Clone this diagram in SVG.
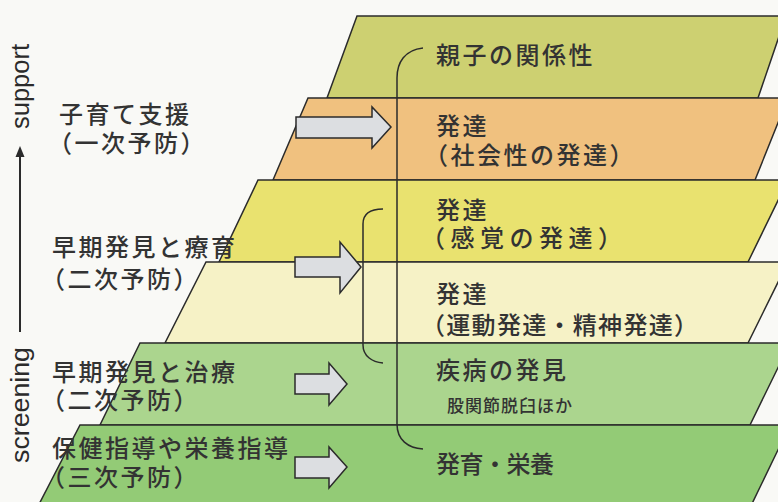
<svg xmlns="http://www.w3.org/2000/svg" width="778" height="502" viewBox="0 0 778 502">
<style>
.layer{stroke:#2b2b2b;stroke-width:1.5;stroke-linejoin:miter}
.arrow{fill:#dcdee1;stroke:#2b2b2b;stroke-width:1.5;stroke-linejoin:miter}
.br{fill:none;stroke:#2b2b2b;stroke-width:1.5}
.jp{font-family:"Noto Sans CJK JP","Noto Sans CJK SC",sans-serif;font-size:24px;font-weight:500;letter-spacing:2.5px;fill:#333333}
.sm{font-family:"Noto Sans CJK JP","Noto Sans CJK SC",sans-serif;font-size:17px;font-weight:500;letter-spacing:1px;fill:#333333}
.en{font-family:"Liberation Sans",Arial,sans-serif;font-size:25px;fill:#2b2b2b}
</style>
<rect width="778" height="502" fill="#f9f9f6"/>
<g id="layer1"><polygon class="layer" fill="#cdd071" points="357,16 786,16 758,98 327,98"/></g>
<g id="layer2"><polygon class="layer" fill="#f0c17f" points="308,98 788,98 755,180 273,180"/></g>
<g id="layer3"><polygon class="layer" fill="#e9e26f" points="258,180 788,180 748,262 219,262"/></g>
<g id="layer4"><polygon class="layer" fill="#f6f2c6" points="206,262 788,262 748,343 165,343"/></g>
<g id="layer5"><polygon class="layer" fill="#abd58e" points="140,343 790,343 750,425 100,425"/></g>
<g id="layer6"><polygon class="layer" fill="#93cb76" points="80,425 790,425 748,512 35,512"/></g>
<g id="connectors">
<polygon class="arrow" points="296,117 372,117 372,107 391,127 372,148 372,138 296,138"/>
<polygon class="arrow" points="295,257 340,257 340,242 361,267 340,293 340,277 295,277"/>
<polygon class="arrow" points="295,374 329,374 329,363 347,384 329,405 329,394 295,394"/>
<polygon class="arrow" points="295,457 329,457 329,447 347,467 329,488 329,478 295,478"/>
<path class="br" d="M423,48 C405,50 397,62 397,78 L397,424 C397,440 408,448 423,449"/>
<path class="br" d="M383,209 C370,209 363,214 363,224 L363,345 C363,356 372,362 383,363"/>
<line x1="20" y1="332" x2="20" y2="152" stroke="#2b2b2b" stroke-width="2"/>
<polygon points="20,146 15.5,157 24.5,157" fill="#2b2b2b"/>
</g>
<g id="axis-labels">
<text class="en" transform="translate(29,129) rotate(-90)" textLength="85" lengthAdjust="spacingAndGlyphs">support</text>
<text class="en" transform="translate(29,463) rotate(-90)" textLength="116" lengthAdjust="spacingAndGlyphs">screening</text>
</g>
<g id="left-labels">
<text class="jp" x="59" y="123">子育て支援</text>
<text class="jp" x="48" y="152">（一次予防）</text>
<text class="jp" x="52" y="256">早期発見と療育</text>
<text class="jp" x="41" y="288">（二次予防）</text>
<text class="jp" x="52" y="381">早期発見と治療</text>
<text class="jp" x="41" y="409">（二次予防）</text>
<text class="jp" x="52" y="457">保健指導や栄養指導</text>
<text class="jp" x="41" y="486">（三次予防）</text>
</g>
<g id="right-labels">
<text class="jp" x="436" y="64">親子の関係性</text>
<text class="jp" x="436" y="135">発達</text>
<text class="jp" x="424" y="164">（社会性の発達）</text>
<text class="jp" x="436" y="219">発達</text>
<text class="jp" x="421" y="247" style="letter-spacing:5.5px">（感覚の発達）</text>
<text class="jp" x="436" y="303">発達</text>
<text class="jp" x="421" y="334" style="letter-spacing:1.3px">（運動発達・精神発達）</text>
<text class="jp" x="436" y="379">疾病の発見</text>
<text class="sm" x="447" y="412">股関節脱臼ほか</text>
<text class="jp" x="436" y="473" style="letter-spacing:-0.5px">発育・栄養</text>
</g>
</svg>
